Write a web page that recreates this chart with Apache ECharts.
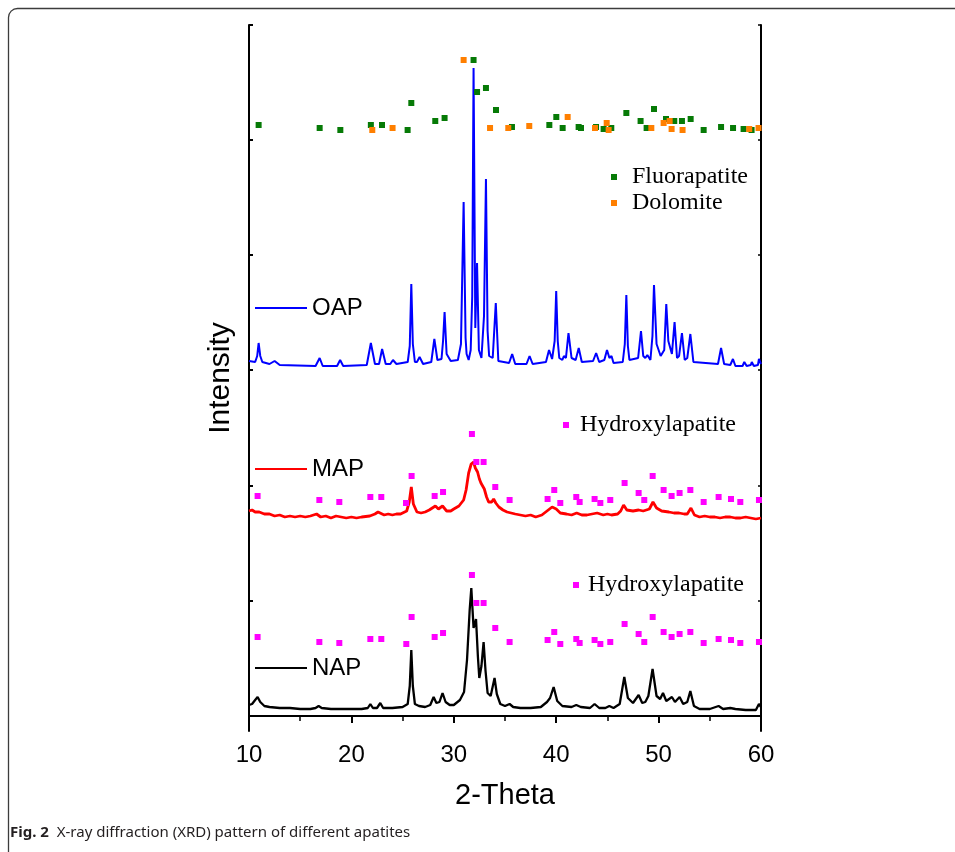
<!DOCTYPE html>
<html>
<head>
<meta charset="utf-8">
<title>XRD pattern of different apatites</title>
<script src="https://cdn.jsdelivr.net/npm/echarts@6/dist/echarts.min.js"></script>
<style>
  html, body { margin: 0; padding: 0; background: #fff; }
  #chart { width: 955px; height: 852px; }
</style>
</head>
<body>
<div id="chart"></div>
<script>
// 2-theta (deg) vs offset intensity (a.u.), patterns stacked as in the figure
var oapPattern = [
  [10.0, 355], [10.6, 354], [10.8, 360], [10.94, 373], [11.1, 360], [11.3, 354], [12.0, 352], [12.5, 355], [13.0, 351],
  [16.5, 350], [16.9, 358], [17.2, 350], [18.6, 350], [18.9, 356], [19.2, 350],
  [21.5, 351], [21.9, 373], [22.3, 352], [22.7, 352], [23.0, 367], [23.35, 352],
  [23.8, 352], [24.06, 356], [24.4, 352], [25.5, 354], [25.7, 370], [25.85, 432], [26.0, 372], [26.2, 354],
  [26.4, 354], [26.66, 359], [27.0, 352], [27.8, 354], [28.1, 377], [28.4, 356],
  [28.8, 357], [28.95, 375], [29.1, 404], [29.25, 372], [29.3, 362], [29.45, 362], [29.7, 355], [30.4, 356],
  [30.7, 372], [30.96, 514], [31.15, 378], [31.25, 362], [31.45, 356], [31.65, 366], [31.8, 420], [31.93, 648], [32.1, 388],
  [32.27, 453], [32.45, 366], [32.7, 358], [32.95, 400], [33.14, 537], [33.3, 385], [33.45, 360], [33.8, 358],
  [34.1, 413], [34.35, 355], [35.4, 353], [35.7, 362], [36.0, 352], [37.1, 352],
  [37.4, 360], [37.7, 352], [39.0, 354], [39.3, 366], [39.6, 357], [39.85, 375], [40.0, 425], [40.15, 375],
  [40.3, 358], [40.6, 356], [40.75, 360], [40.95, 358], [41.2, 383], [41.5, 358],
  [41.9, 356], [42.2, 368], [42.5, 354], [43.6, 355], [43.9, 363], [44.2, 354],
  [44.7, 356], [44.96, 366], [45.2, 358], [45.4, 360], [45.6, 353], [46.5, 354],
  [46.7, 372], [46.85, 421], [47.0, 370], [47.15, 356], [48.0, 358], [48.28, 385], [48.5, 360], [48.7, 358],
  [48.9, 361], [49.2, 356], [49.4, 380], [49.55, 431], [49.8, 372], [50.2, 360], [50.55, 366],
  [50.75, 412], [50.95, 375], [51.1, 374], [51.3, 362], [51.56, 394], [51.8, 358],
  [52.0, 360], [52.28, 383], [52.55, 356], [52.8, 358], [53.1, 382], [53.4, 354],
  [55.8, 352], [56.1, 368], [56.4, 352], [57.0, 351], [57.26, 357], [57.5, 350],
  [58.2, 350], [58.37, 354], [58.6, 350], [59.0, 351], [59.1, 354], [59.3, 350],
  [59.7, 351], [59.8, 357], [60.0, 352]
]

var mapPattern = [
  [10.0, 205], [10.3, 206], [10.6, 204], [11.0, 204], [11.5, 202], [12.0, 202], [12.5, 200],
  [13.0, 201], [13.5, 199], [14.0, 200], [14.5, 199], [15.0, 200], [15.5, 199], [16.0, 200],
  [16.6, 202], [17.0, 199], [17.5, 200], [18.0, 198], [18.5, 200], [19.0, 199], [19.5, 198],
  [20.0, 199], [20.5, 198], [21.0, 199], [21.8, 200], [22.3, 202], [22.6, 204], [23.2, 201],
  [23.6, 202], [24.0, 201], [24.4, 202], [24.8, 202], [25.4, 205], [25.65, 214], [25.85, 229],
  [26.05, 212], [26.4, 204], [26.8, 203], [27.2, 204], [27.6, 206], [28.2, 210], [28.5, 207],
  [28.9, 210], [29.3, 205], [29.7, 205], [30.0, 207], [30.5, 210], [30.96, 216], [31.2, 226],
  [31.45, 243], [31.7, 252], [31.93, 254], [32.1, 248], [32.32, 244], [32.5, 237], [32.65, 233],
  [32.98, 227], [33.2, 219], [33.4, 214], [33.7, 214], [33.89, 217], [34.1, 213], [34.4, 209],
  [34.8, 206], [35.2, 204], [35.6, 203], [36.0, 202], [36.5, 201], [37.0, 200], [37.5, 201],
  [38.0, 199], [38.6, 201], [39.1, 205], [39.6, 209], [40.0, 207], [40.4, 203], [41.0, 202],
  [41.5, 201], [42.0, 203], [42.5, 201], [43.0, 201], [43.5, 202], [44.0, 203], [44.6, 201],
  [45.0, 202], [45.4, 201], [46.0, 202], [46.3, 205], [46.58, 211], [46.9, 206], [47.5, 205],
  [48.05, 206], [48.5, 205], [49.1, 207], [49.45, 214], [49.8, 208], [50.3, 205], [51.0, 204],
  [51.5, 203], [52.0, 203], [52.5, 202], [52.8, 202], [53.16, 208], [53.5, 201], [54.0, 199],
  [54.5, 200], [55.0, 199], [55.5, 199], [56.0, 198], [56.5, 199], [57.0, 199], [57.5, 198],
  [58.0, 198], [58.5, 199], [59.0, 198], [59.5, 197], [60.0, 198]
]

var napPattern = [
  [10.0, 11], [10.3, 12], [10.6, 16], [10.84, 19], [11.1, 14], [11.5, 10], [12.0, 9],
  [13.0, 8], [14.0, 8], [15.0, 7], [16.0, 7], [16.5, 8], [16.8, 10], [17.1, 8], [18.0, 7],
  [19.0, 7], [20.0, 7], [21.0, 7], [21.6, 8], [21.85, 12], [22.1, 8], [22.5, 8], [22.82, 13],
  [23.1, 8], [24.0, 8], [25.0, 9], [25.5, 12], [25.7, 30], [25.85, 66], [26.0, 30], [26.2, 12],
  [26.6, 10], [27.2, 9], [27.7, 11], [28.03, 19], [28.3, 13], [28.6, 14], [28.9, 23], [29.2, 14],
  [29.6, 11], [30.0, 11], [30.6, 16], [31.0, 24], [31.29, 56], [31.55, 106], [31.71, 128],
  [31.93, 88], [32.05, 92], [32.17, 97], [32.35, 60], [32.49, 38], [32.7, 50], [32.91, 74],
  [33.1, 45], [33.3, 23], [33.6, 20], [33.98, 38], [34.2, 22], [34.54, 12], [35.0, 10],
  [35.45, 12], [35.8, 9], [36.5, 8], [37.5, 8], [38.5, 9], [39.1, 14], [39.4, 18], [39.75, 29],
  [40.1, 15], [40.6, 10], [41.5, 9], [41.96, 11], [42.4, 9], [43.3, 8], [43.75, 12], [44.2, 8],
  [44.8, 8], [45.19, 10], [45.6, 8], [46.2, 12], [46.65, 39], [47.0, 18], [47.5, 13],
  [48.05, 21], [48.4, 13], [48.7, 14], [49.0, 20], [49.41, 47], [49.8, 20], [50.15, 17],
  [50.43, 23], [50.75, 15], [51.3, 19], [51.6, 14], [52.05, 19], [52.4, 12], [52.8, 14],
  [53.1, 25], [53.45, 10], [54.0, 7], [55.0, 7], [55.86, 10], [56.3, 7], [57.0, 8], [57.5, 7],
  [58.5, 6], [59.5, 6], [59.8, 12], [60.0, 9]
]

// phase markers
var fluorapatitePeaks = [
  [10.94, 591], [16.9, 588], [18.92, 586], [21.9, 591], [22.99, 591], [25.49, 586],
  [25.85, 613], [28.19, 595], [29.1, 598], [31.93, 656], [32.27, 624], [33.14, 628],
  [34.12, 606], [35.68, 589], [39.33, 591], [40.01, 599], [40.63, 588], [42.19, 589],
  [42.42, 588], [43.89, 589], [44.63, 587], [45.38, 588], [46.85, 603], [48.24, 595],
  [48.83, 588], [49.55, 607], [50.72, 597], [51.53, 595], [52.28, 595], [53.13, 597],
  [54.4, 586], [56.1, 589], [57.27, 588], [58.3, 587], [59.08, 586]
]

var dolomitePeaks = [
  [22.04, 586], [24.02, 588], [30.96, 656], [33.54, 588], [35.32, 588], [37.37, 590],
  [41.12, 599], [43.79, 588], [44.93, 593], [45.12, 586], [49.29, 588], [50.49, 593],
  [51.08, 595], [51.27, 587], [52.34, 586], [58.85, 587], [59.76, 588]
]

var hydroxylapatiteMAP = [
  [10.84, 220], [16.87, 216], [18.82, 214], [21.85, 219], [22.92, 219], [25.33, 213],
  [25.88, 240], [28.13, 220], [28.95, 224], [31.77, 282], [32.2, 254], [32.91, 254],
  [34.05, 229], [35.45, 216], [39.16, 217], [39.81, 226], [40.4, 213], [41.96, 219],
  [42.29, 214], [43.75, 217], [44.31, 213], [45.28, 216], [46.68, 233], [48.05, 223],
  [48.6, 216], [49.42, 240], [50.49, 226], [51.27, 220], [52.05, 223], [53.1, 226],
  [54.4, 214], [55.86, 219], [57.07, 217], [57.98, 214], [59.8, 216]
]

var hydroxylapatiteNAP = [
  [10.84, 79], [16.87, 74], [18.82, 73], [21.85, 77], [22.92, 77], [25.36, 72],
  [25.88, 99], [28.13, 79], [28.95, 83], [31.77, 141], [32.2, 113], [32.91, 113],
  [34.05, 88], [35.45, 74], [39.16, 76], [39.81, 84], [40.4, 72], [41.96, 77],
  [42.29, 73], [43.75, 76], [44.31, 72], [45.28, 74], [46.68, 92], [48.05, 82],
  [48.6, 74], [49.42, 99], [50.49, 84], [51.27, 79], [52.05, 82], [53.1, 84],
  [54.4, 73], [55.86, 77], [57.07, 76], [57.98, 73], [59.8, 74]
]

var yTickValues = [0, 115, 230, 346, 461, 576, 691]

var sans = '"Liberation Sans", Arial, sans-serif'
var serif = '"Liberation Serif", "Times New Roman", serif'

var chart = echarts.init(document.getElementById('chart'))

function lineLegend(name, top) {
  return {
    data: [name],
    left: 255,
    top: top,
    padding: 0,
    icon: 'rect',
    itemWidth: 52,
    itemHeight: 2,
    selectedMode: false,
    textStyle: { fontFamily: sans, fontSize: 24, lineHeight: 24, color: '#000' }
  }
}

function markerLegend(name, left, top, gap) {
  return {
    data: [name],
    left: left,
    top: top,
    padding: 0,
    icon: 'rect',
    itemWidth: 6,
    itemHeight: 6,
    selectedMode: false,
    textStyle: { fontFamily: serif, fontSize: 24, lineHeight: 24, color: '#000', padding: [0, 0, 0, gap] }
  }
}

function markerSeries(name, color, data) {
  return {
    name: name,
    type: 'scatter',
    symbol: 'rect',
    symbolSize: 6,
    itemStyle: { color: color, opacity: 1 },
    data: data,
    z: 3
  }
}

function lineSeries(name, color, width, data) {
  return {
    name: name,
    type: 'line',
    showSymbol: false,
    symbol: 'none',
    color: color,
    lineStyle: { color: color, width: width },
    data: data,
    z: 2
  }
}

var axisLineStyle = { color: '#000', width: 2 }

chart.setOption({
  animation: false,
  title: {
    text: '{b|Fig. 2}  X-ray diffraction (XRD) pattern of different apatites',
    left: 10,
    top: 825,
    padding: 0,
    textStyle: {
      fontFamily: '"Noto Sans", "Open Sans", sans-serif',
      fontSize: 15,
      fontWeight: 'normal',
      color: '#231f20',
      rich: {
        b: { fontFamily: '"Noto Sans", "Open Sans", sans-serif', fontSize: 15, fontWeight: 'bold', color: '#231f20' }
      }
    }
  },
  graphic: [{
    type: 'rect',
    silent: true,
    z: -10,
    shape: { x: 8.5, y: 8.5, width: 1200, height: 1000, r: 9 },
    style: { fill: 'none', stroke: '#3c3c3c', lineWidth: 1.3 }
  }],
  legend: [
    lineLegend('OAP', 296),
    lineLegend('MAP', 457),
    lineLegend('NAP', 656),
    markerLegend('Fluorapatite', 611, 165, 10),
    markerLegend('Dolomite', 611, 191, 10),
    markerLegend('Hydroxylapatite', 563, 413, 6),
    markerLegend('Hydroxylapatite', 573, 573, 4)
  ],
  grid: { left: 249, right: 194, top: 25, bottom: 121 },
  xAxis: [
    {
      type: 'value',
      min: 10,
      max: 60,
      interval: 10,
      position: 'bottom',
      axisLine: { lineStyle: axisLineStyle },
      axisTick: { show: true, inside: false, length: 7, lineStyle: { color: '#000', width: 2 } },
      minorTick: { show: true, splitNumber: 2, length: 5, lineStyle: { color: '#000', width: 1.5 } },
      splitLine: { show: false },
      axisLabel: { fontFamily: sans, fontSize: 24, color: '#000', margin: 12 },
      name: '2-Theta',
      nameLocation: 'middle',
      nameGap: 50,
      nameTextStyle: { fontFamily: sans, fontSize: 29, color: '#000' }
    },
    {
      type: 'value',
      min: 10,
      max: 60,
      interval: 10,
      position: 'top',
      axisLine: { lineStyle: axisLineStyle },
      axisTick: { show: true, inside: true, length: 3, lineStyle: { color: '#000', width: 1.5 } },
      minorTick: { show: true, splitNumber: 2, length: 3, lineStyle: { color: '#000', width: 1.5 } },
      splitLine: { show: false },
      axisLabel: { show: false }
    }
  ],
  yAxis: [
    {
      type: 'value',
      min: -15,
      max: 691,
      position: 'left',
      axisLine: { show: true, lineStyle: axisLineStyle },
      axisTick: { show: true, inside: true, length: 4, customValues: yTickValues, lineStyle: { color: '#000', width: 2 } },
      axisLabel: { show: false },
      splitLine: { show: false },
      name: 'Intensity',
      nameLocation: 'middle',
      nameGap: 13,
      nameTextStyle: { fontFamily: sans, fontSize: 30, color: '#000' }
    },
    {
      type: 'value',
      min: -15,
      max: 691,
      position: 'right',
      axisLine: { show: true, lineStyle: axisLineStyle },
      axisTick: { show: true, inside: true, length: 3, customValues: yTickValues, lineStyle: { color: '#000', width: 1.5 } },
      axisLabel: { show: false },
      splitLine: { show: false }
    }
  ],
  series: [
    lineSeries('OAP', '#0000ff', 2, oapPattern),
    lineSeries('MAP', '#ff0000', 2.8, mapPattern),
    lineSeries('NAP', '#000000', 2.3, napPattern),
    markerSeries('Fluorapatite', '#067a06', fluorapatitePeaks),
    markerSeries('Dolomite', '#ff7f00', dolomitePeaks),
    markerSeries('Hydroxylapatite', '#ff00ff', hydroxylapatiteMAP),
    markerSeries('Hydroxylapatite', '#ff00ff', hydroxylapatiteNAP)
  ]
})
</script>
</body>
</html>
